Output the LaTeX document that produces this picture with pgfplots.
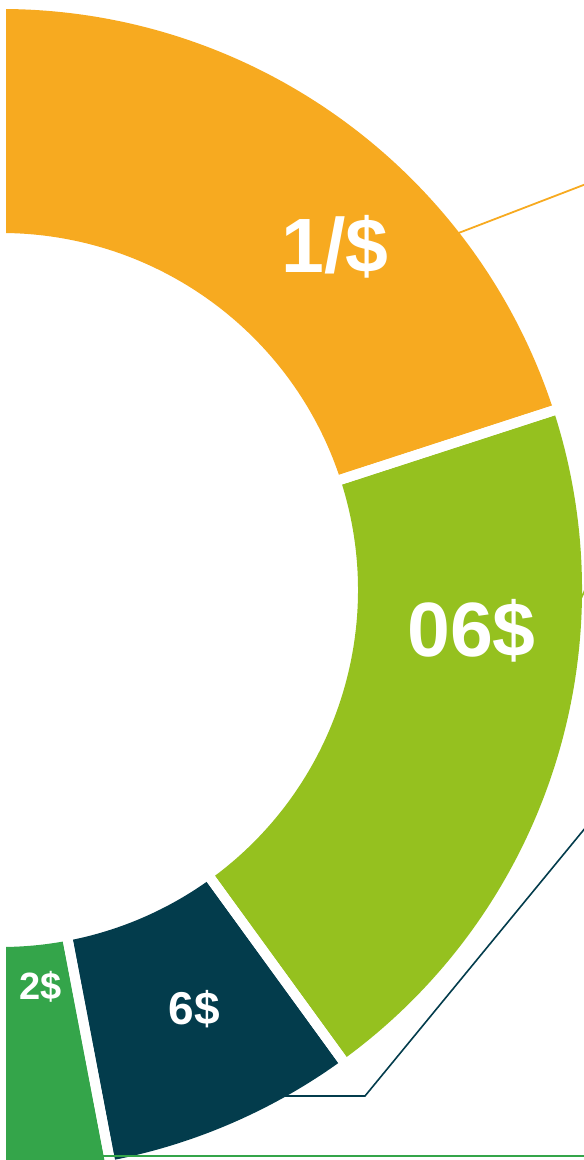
\documentclass[border=0pt]{standalone}
\usepackage{pgfplots}
\usepackage{pgfplotstable}
\pgfplotsset{compat=1.18}
\usepackage{fontspec}
\setmainfont{Liberation Sans}
\definecolor{c0}{HTML}{F7AA20}
\definecolor{c1}{HTML}{95C11F}
\definecolor{c2}{HTML}{033C4C}
\definecolor{c3}{HTML}{34A54A}
\pgfplotstableread{
pct
20
20
7
3
}\piedata
\def\cx{1}\def\cy{570}
\def\rin{357}\def\rout{581}
\begin{document}
\def\cum{0}%
\pgfplotsforeachungrouped \i in {0,...,3}{%
  \pgfplotstablegetelem{\i}{pct}\of\piedata
  \pgfmathsetmacro\s{90-3.6*\cum}%
  \pgfmathsetmacro\e{\s-3.6*\pgfplotsretval}%
  \expandafter\xdef\csname s\i\endcsname{\s}%
  \expandafter\xdef\csname e\i\endcsname{\e}%
  \pgfmathsetmacro\cum{\cum+\pgfplotsretval}%
}%
\begin{tikzpicture}
\begin{axis}[x=1pt,y=1pt,xmin=0,xmax=584,ymin=0,ymax=1160,
  hide axis, scale only axis, clip=true, anchor=south west, at={(0,0)}]
\pgfplotsinvokeforeach{0,...,3}{
  \fill[c#1] (axis cs:\cx,\cy) ++(\csname s#1\endcsname:\rin pt)
     arc[start angle=\csname s#1\endcsname, end angle=\csname e#1\endcsname, radius=\rin pt]
     -- ++(\csname e#1\endcsname:\rout pt-\rin pt)
     arc[start angle=\csname e#1\endcsname, end angle=\csname s#1\endcsname, radius=\rout pt]
     -- cycle;
}
\pgfplotsinvokeforeach{0,...,3}{
  \draw[white, line width=10pt] (axis cs:\cx,\cy) -- ++(\csname s#1\endcsname:620pt);
  \draw[white, line width=10pt] (axis cs:\cx,\cy) -- ++(\csname e#1\endcsname:620pt);
}
% leader lines
\draw[c0, line width=1.8pt] (axis cs:456,926) -- (axis cs:620,989);
\draw[c1, line width=1.6pt] (axis cs:579,557) -- (axis cs:590,581);
\draw[c2, line width=1.6pt] (axis cs:278,64) -- (axis cs:365,64) -- (axis cs:600,350);
\draw[c3, line width=2.2pt] (axis cs:95,4) -- (axis cs:600,4);
% labels
\node[white, anchor=base, font=\bfseries\fontsize{77}{80}\selectfont, inner sep=0pt] at (axis cs:335,887) {1/\$};
\node[white, anchor=base, font=\bfseries\fontsize{77}{80}\selectfont, inner sep=0pt] at (axis cs:471.5,503) {06\$};
\node[white, anchor=base, font=\bfseries\fontsize{46}{50}\selectfont, inner sep=0pt] at (axis cs:194.5,135) {6\$};
\node[white, anchor=base, font=\bfseries\fontsize{38}{42}\selectfont, inner sep=0pt] at (axis cs:40.5,160) {2\$};
\end{axis}
\pgfresetboundingbox
\path[use as bounding box] (0,0) rectangle (584pt,1160pt);
\end{tikzpicture}
\end{document}
